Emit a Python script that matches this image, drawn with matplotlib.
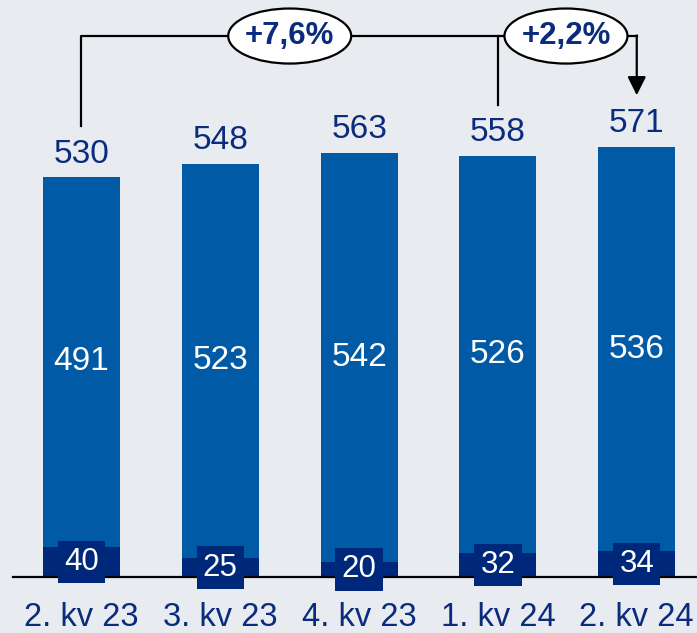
import matplotlib.pyplot as plt
from matplotlib.patches import Ellipse

# quarterly figures, stacked: lower part + upper part = total
quarters = ["2. kv 23", "3. kv 23", "4. kv 23", "1. kv 24", "2. kv 24"]
lower = [40, 25, 20, 32, 34]
upper = [491, 523, 542, 526, 536]
totals = [530, 548, 563, 558, 571]

# growth callouts: (from bar, to bar, label)
growth = [(0, 4, "+7,6%"), (3, 4, "+2,2%")]

bg = "#E8EBF0"
blue = "#005AA5"
navy = "#00287A"
txt = "#0B2B7C"

plt.rcParams["font.family"] = ["Liberation Sans", "DejaVu Sans"]

fig = plt.figure(figsize=(6.97, 6.33), dpi=100)
fig.patch.set_facecolor(bg)
ax = fig.add_axes([0, 0, 1, 1])
ax.set_facecolor(bg)

x = list(range(len(quarters)))
w = 0.555
ax.bar(x, lower, width=w, color=navy, zorder=2)
ax.bar(x, upper, width=w, bottom=lower, color=blue, zorder=2)

ax.set_xlim(-0.587, 4.434)
ax.set_ylim(-74.3, 765.3)
ax.plot([-0.494, 4.434], [0, 0], color="black", lw=1.6, zorder=3)

for i in x:
    ax.text(i, lower[i] / 2, str(lower[i]), ha="center", va="center",
            color="white", fontsize=22.5, zorder=4,
            bbox=dict(boxstyle="square,pad=0.2", fc=navy, ec="none"))
    ax.text(i, lower[i] + upper[i] / 2, str(upper[i]), ha="center",
            va="center", color="white", fontsize=24, zorder=4)
    ax.text(i, totals[i] + 31, str(totals[i]), ha="center", va="center",
            color=txt, fontsize=24, zorder=4)
    ax.text(i, -54.4, quarters[i], ha="center", va="center",
            color=txt, fontsize=23.5)

# bracket lines with ellipse labels
top = 717.5
gap = 68
a0 = growth[0][0]
ax.plot([a0, a0, 4, 4], [totals[a0] + gap, top, top, top],
        color="black", lw=1.6, zorder=3)
b0 = growth[1][0]
ax.plot([b0, b0], [totals[b0] + gap, top], color="black", lw=1.6, zorder=3)
ax.annotate("", xy=(4, totals[4] + gap), xytext=(4, top + 0.8),
            arrowprops=dict(arrowstyle="-|>", color="black", lw=1.6,
                            mutation_scale=28, shrinkA=0, shrinkB=0),
            zorder=3)

for k, (s, e, lab) in enumerate(growth):
    cx = 1.5 if k == 0 else 3.49
    ax.add_patch(Ellipse((cx, top), 0.886, 73, fc="white", ec="black",
                         lw=1.6, zorder=5))
    ax.text(cx, top, lab, ha="center", va="center", color=txt,
            fontsize=22.5, fontweight="bold", zorder=6)

ax.set_xticks([])
ax.set_yticks([])
for sp in ax.spines.values():
    sp.set_visible(False)

fig.savefig("out.png", dpi=100, facecolor=bg)
